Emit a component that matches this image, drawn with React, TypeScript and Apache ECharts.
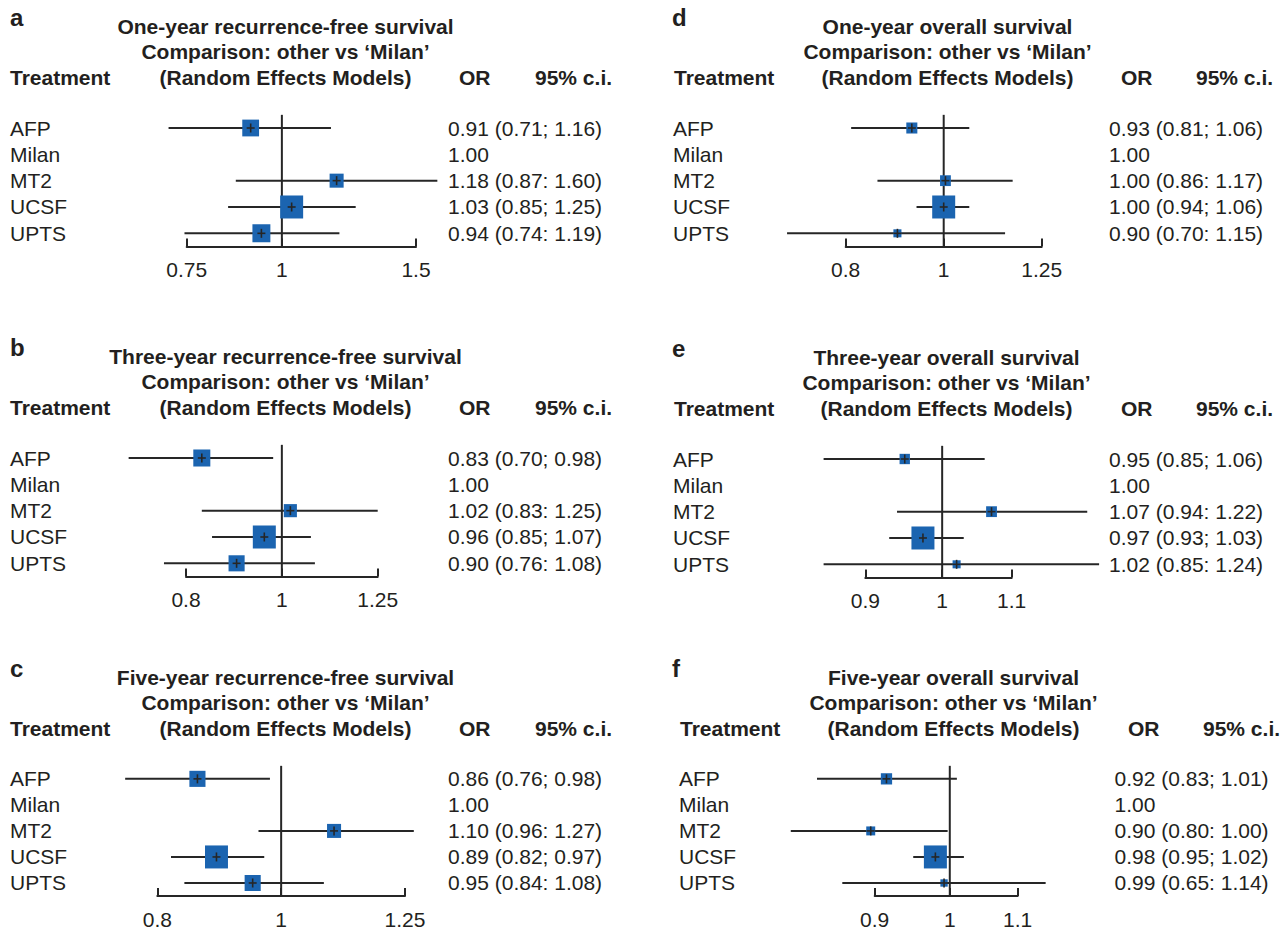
import React, { useEffect, useRef } from "react";
import * as echarts from "echarts";

// ---------- DATA ----------
const treatments = ["AFP", "Milan", "MT2", "UCSF", "UPTS"];

// a: One-year recurrence-free survival
const titleA = "One-year recurrence-free survival";
const orA = [0.91, null, 1.18, 1.03, 0.94];
const loA = [0.71, null, 0.87, 0.85, 0.745];
const hiA = [1.16, null, 1.6, 1.25, 1.19];
const wA = [0.73, null, 0.61, 1.0, 0.78];
const textA = ["0.91 (0.71; 1.16)", "1.00", "1.18 (0.87: 1.60)", "1.03 (0.85; 1.25)", "0.94 (0.74: 1.19)"];
const ticksA = [0.75, 1, 1.5];

// b: Three-year recurrence-free survival
const titleB = "Three-year recurrence-free survival";
const orB = [0.83, null, 1.02, 0.96, 0.9];
const loB = [0.7, null, 0.83, 0.85, 0.76];
const hiB = [0.98, null, 1.25, 1.07, 1.08];
const wB = [0.74, null, 0.57, 1.0, 0.7];
const textB = ["0.83 (0.70; 0.98)", "1.00", "1.02 (0.83: 1.25)", "0.96 (0.85; 1.07)", "0.90 (0.76: 1.08)"];
const ticksB = [0.8, 1, 1.25];

// c: Five-year recurrence-free survival
const titleC = "Five-year recurrence-free survival";
const orC = [0.86, null, 1.1, 0.89, 0.95];
const loC = [0.755, null, 0.96, 0.82, 0.84];
const hiC = [0.98, null, 1.27, 0.97, 1.08];
const wC = [0.7, null, 0.61, 1.0, 0.7];
const textC = ["0.86 (0.76; 0.98)", "1.00", "1.10 (0.96: 1.27)", "0.89 (0.82; 0.97)", "0.95 (0.84: 1.08)"];
const ticksC = [0.8, 1, 1.25];

// d: One-year overall survival
const titleD = "One-year overall survival";
const orD = [0.93, null, 1.004, 1.0, 0.9];
const loD = [0.81, null, 0.86, 0.94, 0.7];
const hiD = [1.06, null, 1.17, 1.06, 1.15];
const wD = [0.48, null, 0.47, 1.0, 0.35];
const textD = ["0.93 (0.81; 1.06)", "1.00", "1.00 (0.86: 1.17)", "1.00 (0.94; 1.06)", "0.90 (0.70: 1.15)"];
const ticksD = [0.8, 1, 1.25];

// e: Three-year overall survival
const titleE = "Three-year overall survival";
const orE = [0.95, null, 1.07, 0.974, 1.02];
const loE = [0.85, null, 0.94, 0.93, 0.85];
const hiE = [1.06, null, 1.22, 1.03, 1.24];
const wE = [0.45, null, 0.47, 1.0, 0.35];
const textE = ["0.95 (0.85; 1.06)", "1.00", "1.07 (0.94: 1.22)", "0.97 (0.93; 1.03)", "1.02 (0.85: 1.24)"];
const ticksE = [0.9, 1, 1.1];

// f: Five-year overall survival
const titleF = "Five-year overall survival";
const orF = [0.915, null, 0.895, 0.98, 0.992];
const loF = [0.83, null, 0.8, 0.95, 0.86];
const hiF = [1.01, null, 0.997, 1.02, 1.144];
const wF = [0.49, null, 0.39, 1.0, 0.32];
const textF = ["0.92 (0.83; 1.01)", "1.00", "0.90 (0.80: 1.00)", "0.98 (0.95; 1.02)", "0.99 (0.65: 1.14)"];
const ticksF = [0.9, 1, 1.1];

const subtitle = "Comparison: other vs \u2018Milan\u2019";
const modelText = "(Random Effects Models)";
const headTreatment = "Treatment";
const headOR = "OR";
const headCI = "95% c.i.";

const PANELS = [
  { letter: "a", title: titleA, or: orA, lo: loA, hi: hiA, w: wA, text: textA, ticks: ticksA },
  { letter: "b", title: titleB, or: orB, lo: loB, hi: hiB, w: wB, text: textB, ticks: ticksB },
  { letter: "c", title: titleC, or: orC, lo: loC, hi: hiC, w: wC, text: textC, ticks: ticksC },
  { letter: "d", title: titleD, or: orD, lo: loD, hi: hiD, w: wD, text: textD, ticks: ticksD },
  { letter: "e", title: titleE, or: orE, lo: loE, hi: hiE, w: wE, text: textE, ticks: ticksE },
  { letter: "f", title: titleF, or: orF, lo: loF, hi: hiF, w: wF, text: textF, ticks: ticksF },
];

// ---------- LAYOUT ----------
const LAYOUT = [
  { gridL: 186.7, gridR: 416, rowY: 128, labelX: 10, textX: 448, orX: 459, ciX: 535, titleCX: 285.5, letterX: 10, treatX: 10 },
  { gridL: 186, gridR: 377.7, rowY: 458, labelX: 10, textX: 448, orX: 459, ciX: 535, titleCX: 285.5, letterX: 10, treatX: 10 },
  { gridL: 157.3, gridR: 405, rowY: 779, labelX: 10, textX: 448, orX: 459, ciX: 535, titleCX: 285.5, letterX: 10, treatX: 10 },
  { gridL: 845.7, gridR: 1041.7, rowY: 128, labelX: 673, textX: 1109, orX: 1121, ciX: 1196, titleCX: 947.5, letterX: 672, treatX: 674 },
  { gridL: 865.3, gridR: 1011.7, rowY: 459, labelX: 673, textX: 1109, orX: 1121, ciX: 1196, titleCX: 946.5, letterX: 672, treatX: 674 },
  { gridL: 874.7, gridR: 1017.7, rowY: 779, labelX: 679, textX: 1114.5, orX: 1128, ciX: 1203, titleCX: 953.5, letterX: 672, treatX: 680 },
];

const ROW_H = 26.33;
const FONT = "'Liberation Sans', Arial, Helvetica, sans-serif";
const INK = "#231f20";
const LINE = "#262626";
const BLUE = "#1b64b0";
const MAX_BOX = 23;

function buildOption() {
  const grid: any[] = [];
  const xAxis: any[] = [];
  const yAxis: any[] = [];
  const series: any[] = [];
  const graphic: any[] = [];

  PANELS.forEach((p, i) => {
    const L = LAYOUT[i];
    const top = L.rowY - ROW_H / 2;
    const h = ROW_H * treatments.length;
    grid.push({ left: L.gridL, width: L.gridR - L.gridL, top, height: h, containLabel: false });
    const lnTicks = p.ticks.map((t) => Math.log(t));
    xAxis.push({
      gridIndex: i,
      type: "value",
      min: Math.log(p.ticks[0]),
      max: Math.log(p.ticks[p.ticks.length - 1]),
      splitLine: { show: false },
      axisLine: { show: true, lineStyle: { color: LINE, width: 2 } },
      axisTick: { show: true, inside: true, length: 8, customValues: lnTicks, lineStyle: { color: LINE, width: 2 } },
      axisLabel: {
        show: true,
        customValues: lnTicks,
        margin: 13,
        color: INK,
        fontFamily: FONT,
        fontSize: 21,
        formatter: (v: number) => String(Math.round(Math.exp(v) * 100) / 100),
      },
    });
    yAxis.push({
      gridIndex: i,
      type: "category",
      inverse: true,
      data: treatments,
      position: "left",
      axisLine: { show: false },
      axisTick: { show: false },
      splitLine: { show: false },
      axisLabel: {
        interval: 0,
        hideOverlap: false,
        margin: L.gridL - L.labelX,
        align: "left",
        color: INK,
        fontFamily: FONT,
        fontSize: 21,
      },
    });
    yAxis.push({
      gridIndex: i,
      type: "category",
      inverse: true,
      data: treatments,
      position: "right",
      axisLine: { show: false },
      axisTick: { show: false },
      splitLine: { show: false },
      axisLabel: {
        interval: 0,
        hideOverlap: false,
        margin: L.textX - L.gridR,
        align: "left",
        color: INK,
        fontFamily: FONT,
        fontSize: 21,
        formatter: (_v: string, idx: number) => p.text[idx],
      },
    });

    const data = treatments.map((_t, r) =>
      p.or[r] == null
        ? [r, "-", "-", "-", "-"]
        : [r, Math.log(p.or[r] as number), Math.log(p.lo[r] as number), Math.log(p.hi[r] as number), p.w[r]]
    );

    series.push({
      type: "custom",
      xAxisIndex: i,
      yAxisIndex: i * 2,
      clip: false,
      silent: true,
      encode: { x: [1, 2, 3], y: 0 },
      data,
      renderItem: (params: any, api: any) => {
        const cs = params.coordSys;
        const row = api.value(0);
        const children: any[] = [];
        if (params.dataIndex === 0) {
          const x0 = api.coord([0, row])[0];
          children.push({
            type: "line",
            shape: { x1: x0, y1: cs.y, x2: x0, y2: cs.y + cs.height },
            style: { stroke: LINE, lineWidth: 2 },
          });
        }
        const or = api.value(1);
        if (!isNaN(or)) {
          const lo = api.value(2);
          const hi = api.value(3);
          const w = api.value(4);
          const pOr = api.coord([or, row]);
          const pLo = api.coord([lo, row]);
          const pHi = api.coord([hi, row]);
          const s = w * MAX_BOX;
          children.push({
            type: "line",
            shape: { x1: pLo[0], y1: pLo[1], x2: pHi[0], y2: pHi[1] },
            style: { stroke: LINE, lineWidth: 2 },
          });
          children.push({
            type: "rect",
            shape: { x: pOr[0] - s / 2, y: pOr[1] - s / 2, width: s, height: s },
            style: { fill: BLUE },
          });
          children.push({
            type: "line",
            shape: { x1: pOr[0] - 4, y1: pOr[1], x2: pOr[0] + 4, y2: pOr[1] },
            style: { stroke: LINE, lineWidth: 1.6 },
          });
          children.push({
            type: "line",
            shape: { x1: pOr[0], y1: pOr[1] - 4.5, x2: pOr[0], y2: pOr[1] + 4.5 },
            style: { stroke: LINE, lineWidth: 1.6 },
          });
        }
        return { type: "group", children };
      },
    });

    const bold = (size: number) => `bold ${size}px ${FONT}`;
    graphic.push(
      { type: "text", x: L.letterX, y: L.rowY - 111, style: { text: p.letter, font: bold(24), fill: INK, textAlign: "left", textVerticalAlign: "middle" } },
      { type: "text", x: L.titleCX, y: L.rowY - 102, style: { text: p.title, font: bold(21), fill: INK, textAlign: "center", textVerticalAlign: "middle" } },
      { type: "text", x: L.titleCX, y: L.rowY - 76.5, style: { text: subtitle, font: bold(21), fill: INK, textAlign: "center", textVerticalAlign: "middle" } },
      { type: "text", x: L.titleCX, y: L.rowY - 51, style: { text: modelText, font: bold(21), fill: INK, textAlign: "center", textVerticalAlign: "middle" } },
      { type: "text", x: L.treatX, y: L.rowY - 51, style: { text: headTreatment, font: bold(21), fill: INK, textAlign: "left", textVerticalAlign: "middle" } },
      { type: "text", x: L.orX, y: L.rowY - 51, style: { text: headOR, font: bold(21), fill: INK, textAlign: "left", textVerticalAlign: "middle" } },
      { type: "text", x: L.ciX, y: L.rowY - 51, style: { text: headCI, font: bold(21), fill: INK, textAlign: "left", textVerticalAlign: "middle" } }
    );
  });

  return {
    animation: false,
    backgroundColor: "#ffffff",
    textStyle: { fontFamily: FONT },
    grid,
    xAxis,
    yAxis,
    series,
    graphic,
  };
}

export default function App() {
  const ref = useRef<HTMLDivElement>(null);
  useEffect(() => {
    if (!ref.current) return;
    const chart = echarts.init(ref.current, undefined, { renderer: "svg" });
    chart.setOption(buildOption() as any);
    return () => chart.dispose();
  }, []);
  return (
    <div
      ref={ref}
      style={{ position: "fixed", left: 0, top: 0, width: 1286, height: 930, background: "#fff" }}
    />
  );
}
